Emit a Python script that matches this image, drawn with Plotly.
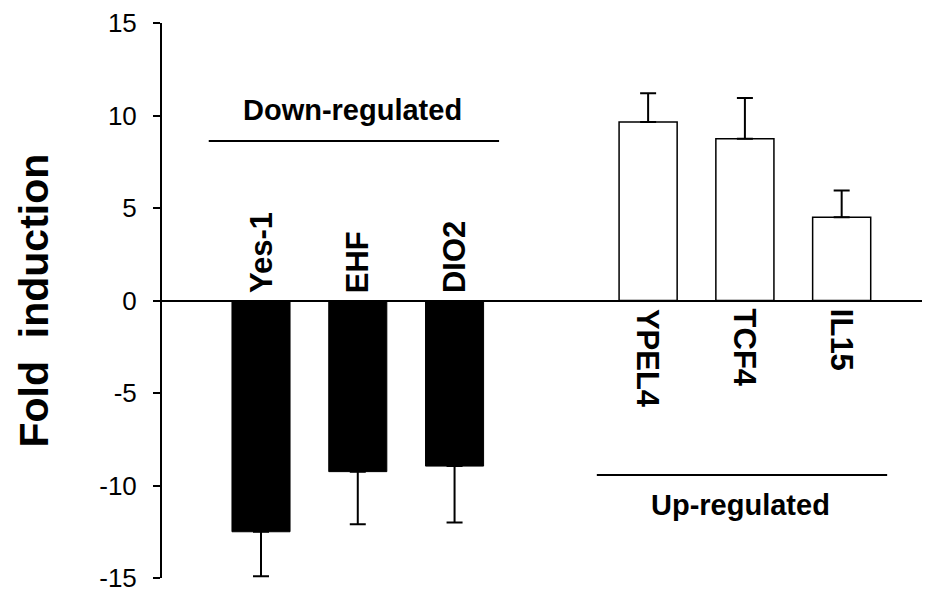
import plotly.graph_objects as go

# ---- data ----
down_genes = ["Yes-1", "EHF", "DIO2"]
down_values = [-12.5, -9.25, -8.95]
down_errors = [2.4, 2.85, 3.05]

up_genes = ["YPEL4", "TCF4", "IL15"]
up_values = [9.65, 8.75, 4.5]
up_errors = [1.55, 2.2, 1.45]

y_ticks = [-15, -10, -5, 0, 5, 10, 15]
y_ticktext = ["-15", "-10", "-5", "0", "5", "10", "15"]
y_title = "Fold  induction"
down_label = "Down-regulated"
up_label = "Up-regulated"

FONT = "Arial, Liberation Sans, sans-serif"

# slot indices: down group, one empty slot, then up group
down_x = list(range(len(down_genes)))
up_x = [len(down_genes) + 1 + i for i in range(len(up_genes))]

fig = go.Figure()
fig.add_trace(go.Bar(
    x=down_x, y=down_values, width=0.6,
    marker=dict(color="black", line=dict(color="black", width=1)),
    error_y=dict(type="data", symmetric=False,
                 array=[0] * len(down_errors), arrayminus=down_errors,
                 color="black", thickness=2, width=8),
    showlegend=False,
))
fig.add_trace(go.Bar(
    x=up_x, y=up_values, width=0.6,
    marker=dict(color="white", line=dict(color="black", width=1.5)),
    error_y=dict(type="data", symmetric=False,
                 array=up_errors, arrayminus=[0] * len(up_errors),
                 color="black", thickness=2, width=8),
    showlegend=False,
))

LABEL_SIZE = 31
annotations = []
for xi, g in zip(down_x, down_genes):
    annotations.append(dict(x=xi, y=0, xref="x", yref="y", text=g, showarrow=False,
                            textangle=-90, yanchor="bottom", xanchor="center", yshift=5,
                            font=dict(family=FONT, size=LABEL_SIZE, color="black", weight="bold")))
for xi, g in zip(up_x, up_genes):
    annotations.append(dict(x=xi, y=0, xref="x", yref="y", text=g, showarrow=False,
                            textangle=90, yanchor="top", xanchor="center", yshift=-6,
                            font=dict(family=FONT, size=LABEL_SIZE, color="black", weight="bold")))

# group labels and lines
down_mid = (down_x[0] + down_x[-1]) / 2
up_mid = (up_x[0] + up_x[-1]) / 2
annotations.append(dict(x=down_mid - 0.05, y=10.3, xref="x", yref="y", text=down_label,
                        showarrow=False, xanchor="center", yanchor="middle",
                        font=dict(family=FONT, size=29, color="black", weight="bold")))
annotations.append(dict(x=up_mid - 0.05, y=-11.05, xref="x", yref="y", text=up_label,
                        showarrow=False, xanchor="center", yanchor="middle",
                        font=dict(family=FONT, size=29, color="black", weight="bold")))

L, R, T, B = 154, 9, 15, 16
W, H = 923, 586
plot_w = W - L - R
annotations.append(dict(x=(25 - L) / plot_w, y=0.5, xref="paper", yref="paper", text=y_title,
                        showarrow=False, textangle=-90, xanchor="center", yanchor="middle",
                        font=dict(family=FONT, size=41, color="black", weight="bold")))

shapes = [
    dict(type="line", xref="x", yref="y", x0=down_x[0] - 0.54, x1=down_x[-1] + 0.46,
         y0=8.62, y1=8.62, line=dict(color="black", width=2)),
    dict(type="line", xref="x", yref="y", x0=up_x[0] - 0.53, x1=up_x[-1] + 0.47,
         y0=-9.43, y1=-9.43, line=dict(color="black", width=2)),
]

fig.update_layout(
    width=W, height=H,
    margin=dict(l=L, r=R, t=T, b=B),
    paper_bgcolor="white", plot_bgcolor="white",
    annotations=annotations, shapes=shapes,
    xaxis=dict(range=[-1.023, 6.83], showticklabels=False, showgrid=False,
               zeroline=False, showline=False, ticks="", automargin=False),
    yaxis=dict(range=[-15, 15], tickvals=y_ticks, ticktext=y_ticktext,
               ticks="outside", ticklen=7, automargin=False,
               tickwidth=2, tickcolor="black", showline=True, linecolor="black",
               linewidth=2, showgrid=False, zeroline=True, zerolinecolor="black",
               zerolinewidth=2, ticklabelstandoff=11,
               tickfont=dict(family=FONT, size=26, color="black")),
    font=dict(family=FONT, color="black"),
)

fig.write_html("out.html")
